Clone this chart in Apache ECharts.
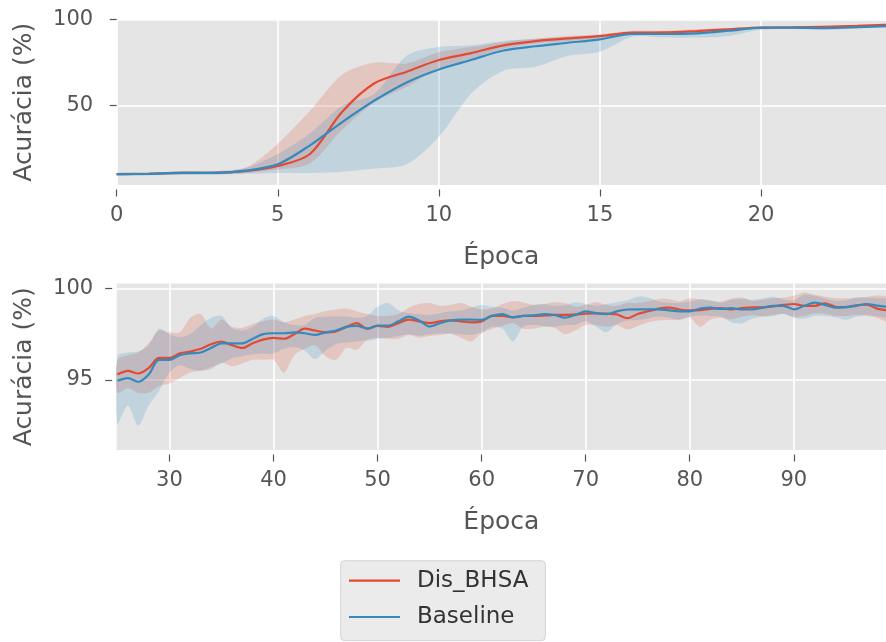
<!DOCTYPE html>
<html>
<head>
<meta charset="utf-8">
<script src="https://cdn.jsdelivr.net/npm/echarts@6/dist/echarts.min.js"></script>
<style>
  html, body { margin: 0; padding: 0; background: #fff; }
  #chart { width: 886px; height: 642px; }
</style>
</head>
<body>
<div id="chart"></div>
<script>
// ---------- data: epochs 0-24 (top panel) ----------
const topEpochs = [0, 1, 2, 3, 4, 5, 6, 7, 8, 9, 10, 11, 12, 13, 14, 15, 16, 17, 18, 19, 20, 21, 22, 23, 24];
const topRedMean  = [10.3, 10.5, 11.0, 11.0, 12.0, 15.0, 22.0, 46.5, 63.0, 69.7, 76.5, 80.5, 85.0, 87.5, 89.0, 90.4, 92.4, 92.5, 93.3, 94.3, 95.3, 95.4, 95.8, 96.3, 97.0];
const topRedUpper = [11.0, 11.4, 11.9, 12.0, 14.0, 28.0, 47.0, 68.0, 75.0, 74.5, 81.0, 84.0, 87.0, 89.0, 90.5, 91.5, 93.5, 93.5, 94.3, 95.0, 96.0, 96.0, 96.5, 97.0, 97.5];
const topRedLower = [9.6, 9.7, 10.1, 10.2, 11.0, 13.0, 16.5, 36.0, 52.0, 61.0, 72.0, 77.0, 83.0, 86.0, 87.5, 89.3, 91.3, 91.5, 92.3, 93.5, 94.6, 94.8, 95.1, 95.6, 96.4];
const topBlueMean  = [10.3, 10.5, 11.0, 11.0, 12.3, 16.0, 27.0, 40.5, 53.0, 63.5, 71.0, 76.5, 82.0, 84.5, 86.5, 88.5, 91.6, 91.6, 92.0, 93.5, 95.2, 95.3, 95.0, 95.5, 96.2];
const topBlueUpper = [11.0, 11.3, 11.9, 12.0, 14.0, 22.0, 34.0, 50.0, 57.0, 79.0, 84.0, 85.0, 87.5, 88.8, 90.0, 91.0, 92.5, 92.5, 93.0, 94.2, 96.0, 96.0, 95.8, 96.2, 97.0];
const topBlueLower = [9.5, 9.7, 10.0, 10.0, 10.5, 11.0, 11.0, 11.7, 13.5, 16.0, 32.0, 57.0, 70.3, 72.6, 78.8, 81.3, 90.0, 89.5, 89.5, 90.5, 94.0, 94.5, 94.0, 94.8, 95.5];

// ---------- data: epochs 25-99 (bottom panel) ----------
const botEpochs = [25, 26, 27, 28, 29, 30, 31, 32, 33, 34, 35, 36, 37, 38, 39, 40, 41, 42, 43, 44, 45, 46, 47, 48, 49,
  50, 51, 52, 53, 54, 55, 56, 57, 58, 59, 60, 61, 62, 63, 64, 65, 66, 67, 68, 69, 70, 71, 72, 73, 74,
  75, 76, 77, 78, 79, 80, 81, 82, 83, 84, 85, 86, 87, 88, 89, 90, 91, 92, 93, 94, 95, 96, 97, 98, 99];
const botRedMean = [95.3, 95.5, 95.35, 95.65, 96.2, 96.2, 96.45, 96.55, 96.7, 96.95, 97.1, 96.9, 96.75, 97.0, 97.2, 97.3, 97.25, 97.5, 97.8, 97.7, 97.6, 97.65, 97.9, 98.1, 97.8,
  97.95, 97.9, 98.1, 98.3, 98.2, 98.1, 98.2, 98.25, 98.2, 98.15, 98.2, 98.5, 98.5, 98.42, 98.5, 98.5, 98.52, 98.55, 98.55, 98.58, 98.62, 98.64, 98.62, 98.58, 98.37,
  98.6, 98.75, 98.9, 98.95, 98.85, 98.8, 98.82, 98.88, 98.92, 98.85, 98.92, 98.97, 98.97, 99.02, 99.1, 99.15, 99.05, 99.05, 99.18, 99.0, 98.98, 99.08, 99.12, 98.9, 98.8];
const botRedUpper = [96.1, 96.35, 96.5, 97.0, 97.7, 97.6, 97.6, 98.4, 98.6, 97.8, 98.3, 97.9, 97.85, 98.05, 98.2, 98.3, 98.15, 98.3, 98.5, 98.6, 98.75, 98.85, 98.9, 98.75, 98.6,
  98.5, 98.5, 98.6, 98.95, 99.15, 99.2, 99.05, 99.1, 99.2, 99.0, 98.85, 98.9, 99.15, 99.3, 99.25, 99.1, 99.15, 99.25, 99.2, 99.0, 99.1, 99.25, 99.1, 99.05, 99.2,
  99.2, 99.3, 99.42, 99.42, 99.3, 99.45, 99.42, 99.32, 99.28, 99.45, 99.5, 99.32, 99.38, 99.46, 99.5, 99.6, 99.78, 99.65, 99.55, 99.48, 99.46, 99.46, 99.55, 99.62, 99.5];
const botRedLower = [94.3, 94.55, 94.3, 94.3, 94.65, 94.8, 95.1, 95.4, 95.5, 95.6, 95.95, 95.75, 95.9, 96.1, 96.1, 96.1, 95.4, 96.35, 96.7, 96.9, 96.3, 96.1, 96.75, 96.65, 97.2,
  97.3, 97.25, 97.25, 97.45, 97.3, 97.4, 97.45, 97.52, 97.3, 97.1, 97.55, 97.8, 97.95, 98.1, 97.8, 97.8, 97.9, 97.85, 97.5, 97.7, 98.0, 98.0, 97.9, 98.0, 97.75,
  97.95, 98.15, 98.25, 98.28, 98.28, 98.4, 97.9, 98.3, 98.4, 98.3, 98.45, 98.55, 98.48, 98.55, 98.62, 98.45, 98.5, 98.64, 98.62, 98.5, 98.5, 98.55, 98.5, 98.4, 98.2];
const botBlueMean = [94.95, 95.1, 94.9, 95.3, 96.1, 96.1, 96.35, 96.45, 96.5, 96.75, 97.0, 97.0, 97.0, 97.25, 97.5, 97.55, 97.55, 97.6, 97.55, 97.46, 97.6, 97.7, 97.9, 97.95, 97.8,
  97.97, 97.97, 98.2, 98.46, 98.25, 97.92, 98.1, 98.25, 98.3, 98.3, 98.28, 98.5, 98.6, 98.42, 98.5, 98.53, 98.6, 98.55, 98.4, 98.55, 98.75, 98.65, 98.6, 98.75, 98.85,
  98.86, 98.86, 98.86, 98.8, 98.75, 98.75, 98.9, 98.95, 98.88, 98.92, 98.85, 98.85, 98.95, 99.05, 99.05, 98.86, 99.05, 99.22, 99.1, 98.95, 98.98, 99.05, 99.15, 99.06, 99.0];
const botBlueUpper = [96.3, 96.5, 96.55, 96.9, 97.8, 97.5, 97.35, 97.5, 98.0, 98.4, 98.5, 97.85, 97.7, 97.9, 98.35, 98.5, 98.15, 98.0, 98.0, 98.4, 98.45, 98.46, 98.46, 98.4, 98.5,
  99.0, 99.2, 98.8, 98.65, 98.6, 98.55, 98.65, 98.75, 98.8, 98.95, 99.1, 99.0, 98.95, 98.8, 98.95, 99.1, 99.15, 99.05, 99.08, 99.25, 99.15, 99.05, 99.15, 99.25, 99.35,
  99.55, 99.5, 99.28, 99.22, 99.2, 99.28, 99.4, 99.35, 99.22, 99.38, 99.42, 99.38, 99.45, 99.55, 99.4, 99.35, 99.65, 99.6, 99.45, 99.32, 99.35, 99.52, 99.5, 99.46, 99.4];
const botBlueLower = [92.6, 93.6, 92.5, 93.6, 94.4, 95.4, 95.8, 95.6, 95.5, 95.7, 95.9, 96.2, 96.3, 96.4, 96.45, 96.45, 96.7, 96.8, 96.6, 96.15, 96.6, 96.95, 97.05, 97.1, 97.15,
  97.25, 97.3, 97.4, 97.5, 97.42, 97.5, 97.55, 97.55, 97.5, 97.46, 97.6, 97.9, 97.8, 97.1, 97.9, 98.0, 97.95, 97.9, 98.0, 98.0, 98.2, 97.9, 97.6, 98.05, 98.25,
  98.28, 98.35, 98.46, 98.4, 98.3, 98.45, 98.52, 98.5, 98.46, 98.15, 98.1, 98.35, 98.45, 98.5, 98.6, 98.4, 98.35, 98.5, 98.5, 98.42, 98.28, 98.45, 98.55, 98.48, 98.45];

const topXTicks = [0, 5, 10, 15, 20];
const topYTicks = [50, 100];
const botXTicks = [30, 40, 50, 60, 70, 80, 90];
const botYTicks = [95, 100];

const RED = '#E24A33';
const BLUE = '#348ABD';
const FONT = 'DejaVu Sans';

function pairs(xs, ys) { return xs.map((x, i) => [x, ys[i]]); }

function lineSeries(name, xs, ys, color, idx) {
  return {
    name, type: 'line', xAxisIndex: idx, yAxisIndex: idx,
    data: pairs(xs, ys), smooth: 0.3, showSymbol: false, symbol: 'none',
    color, lineStyle: { color, width: 2.2 }, z: 5, silent: true
  };
}

// shaded band between lower and upper, drawn through the axis scales with api.coord
function bandSeries(xs, lower, upper, fill, idx) {
  return {
    type: 'custom', xAxisIndex: idx, yAxisIndex: idx, silent: true, z: 2, clip: true,
    data: [[xs[0], lower[0]]],
    renderItem(params, api) {
      const top = xs.map((x, i) => api.coord([x, upper[i]]));
      const bot = xs.map((x, i) => api.coord([x, lower[i]])).reverse();
      return {
        type: 'group',
        children: [{
          type: 'polygon',
          shape: { points: top.concat(bot), smooth: 0.3 },
          style: { fill, stroke: null }
        }]
      };
    }
  };
}

function xAxisCfg(idx, min, max, ticks) {
  return {
    type: 'value', gridIndex: idx, min, max, offset: 4.5,
    axisLine: { show: false },
    axisTick: { show: true, length: 7, customValues: ticks, lineStyle: { color: '#555', width: 1.2 } },
    axisLabel: { customValues: ticks, color: '#555', fontSize: 21, fontFamily: FONT, margin: 16 },
    splitLine: { show: true, lineStyle: { color: '#fff', width: 1.6 } },
    name: 'Época', nameLocation: 'middle', nameGap: 55,
    nameTextStyle: { color: '#555', fontSize: 25, fontFamily: FONT }
  };
}

function yAxisCfg(idx, min, max, ticks) {
  return {
    type: 'value', gridIndex: idx, min, max, offset: 4.5,
    axisLine: { show: false },
    axisTick: { show: true, length: 7, customValues: ticks, lineStyle: { color: '#555', width: 1.2 } },
    axisLabel: { customValues: ticks, color: '#555', fontSize: 21, fontFamily: FONT, margin: 19 },
    splitLine: { show: true, lineStyle: { color: '#fff', width: 1.6 } },
    name: 'Acurácia (%)', nameLocation: 'middle', nameGap: 75,
    nameTextStyle: { color: '#555', fontSize: 25, fontFamily: FONT }
  };
}

const chart = echarts.init(document.getElementById('chart'), null, { renderer: 'canvas' });

chart.setOption({
  animation: false,
  backgroundColor: '#fff',
  grid: [
    { left: 116.7, top: 19.5, width: 776.3, height: 165.5, show: true, backgroundColor: '#E5E5E5', borderWidth: 0 },
    { left: 116.7, top: 283.5, width: 776.3, height: 166.5, show: true, backgroundColor: '#E5E5E5', borderWidth: 0 }
  ],
  xAxis: [xAxisCfg(0, 0, 23.88, topXTicks), xAxisCfg(1, 24.93, 98.86, botXTicks)],
  yAxis: [yAxisCfg(0, 4, 100, topYTicks), yAxisCfg(1, 91.17, 100.27, botYTicks)],
  legend: {
    orient: 'vertical', left: 340.7, top: 560.7,
    data: ['Dis_BHSA', 'Baseline'],
    icon: 'rect', itemWidth: 51, itemHeight: 2.2, itemGap: 13.3,
    padding: [8.5, 17, 12.2, 8.3],
    backgroundColor: '#EBEBEB', borderColor: '#D4D4D4', borderWidth: 1, borderRadius: 4,
    textStyle: { color: '#333', fontSize: 23, fontFamily: FONT, lineHeight: 23, padding: [0, 0, 0, 12] },
    selectedMode: false
  },
  series: [
    bandSeries(topEpochs, topRedLower, topRedUpper, 'rgba(226,74,51,0.2)', 0),
    bandSeries(topEpochs, topBlueLower, topBlueUpper, 'rgba(52,138,189,0.2)', 0),
    lineSeries('Dis_BHSA', topEpochs, topRedMean, RED, 0),
    lineSeries('Baseline', topEpochs, topBlueMean, BLUE, 0),
    bandSeries(botEpochs, botRedLower, botRedUpper, 'rgba(226,74,51,0.2)', 1),
    bandSeries(botEpochs, botBlueLower, botBlueUpper, 'rgba(52,138,189,0.2)', 1),
    lineSeries('Dis_BHSA', botEpochs, botRedMean, RED, 1),
    lineSeries('Baseline', botEpochs, botBlueMean, BLUE, 1)
  ]
});
</script>
</body>
</html>
